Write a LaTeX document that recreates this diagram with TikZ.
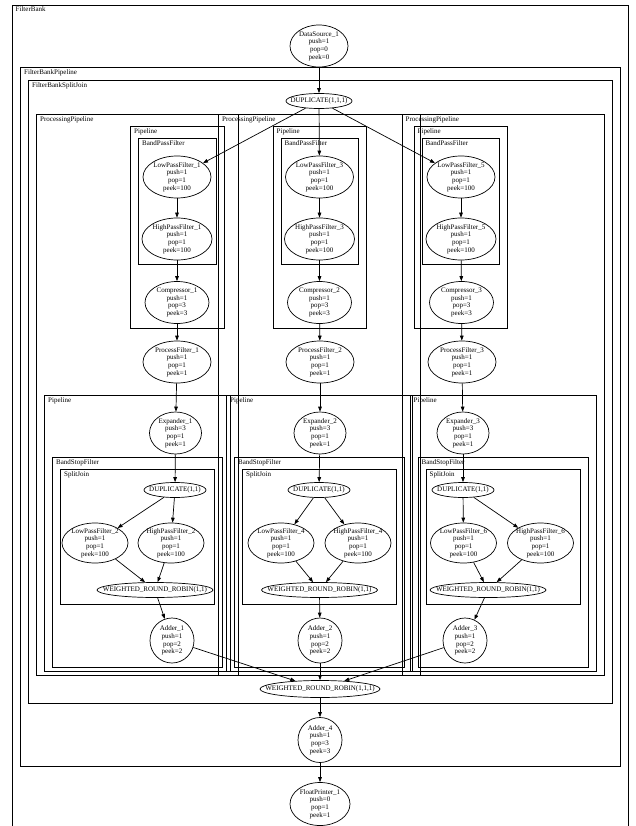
\documentclass[tikz,border=0pt]{standalone}
\usepackage{fontspec}
\setmainfont{Liberation Serif}
\usetikzlibrary{shapes.geometric, arrows.meta}
\newcommand{\gvfont}{\fontsize{7}{7.7}\selectfont}

\begin{document}
\begin{tikzpicture}[
    x=1pt, y=-1pt,
    box/.style={draw, line width=0.7pt},
    boxlabel/.style={anchor=north west, inner sep=0pt, font=\gvfont},
    filt/.style={ellipse, draw, line width=0.7pt, inner sep=-20pt, align=center, font=\gvfont, minimum width=68pt, minimum height=42pt},
    small/.style={filt, minimum width=66pt, minimum height=40pt},
    adder/.style={filt, minimum width=44pt, minimum height=45pt},
    oval/.style={filt, minimum width=62pt, minimum height=15pt},
    wrr/.style={oval, minimum width=116pt},
    edge/.style={line width=0.7pt, -{Triangle[length=5pt, width=3.6pt]}}
]
\clip (0,0) rectangle (636,826);

% clusters
\draw[box] (12.5,5) rectangle (628,840);
\node[boxlabel] (lfb) at (15.5,6.5) {FilterBank};
\draw[box] (20.5,67.5) rectangle (620,766);
\node[boxlabel] (lfbp) at (24,69.5) {FilterBankPipeline};
\draw[box] (28.5,80) rectangle (612,703);
\node[boxlabel] (lfbs) at (32,82) {FilterBankSplitJoin};

\foreach \i/\L/\U in {1/44.5/130.5, 2/226.5/273, 3/410/414} {
  \draw[box] ({\L-8},114) rectangle ({\L+194},675);
  \node[boxlabel] (lpp\i) at ({\L-4.5},116) {ProcessingPipeline};
  \draw[box] (\U,126) rectangle ({\U+93.5},328.5);
  \node[boxlabel] (lpu\i) at ({\U+3.5},128) {Pipeline};
  \draw[box] ({\U+8},138) rectangle ({\U+85.5},264);
  \node[boxlabel] (lbp\i) at ({\U+11.5},140) {BandPassFilter};
  \draw[box] (\L,395) rectangle ({\L+186},671);
  \node[boxlabel] (lpl\i) at ({\L+3.5},397) {Pipeline};
  \draw[box] ({\L+8},457.5) rectangle ({\L+178},667);
  \node[boxlabel] (lbs\i) at ({\L+11.5},459.5) {BandStopFilter};
  \draw[box] ({\L+16},469) rectangle ({\L+170},604);
  \node[boxlabel] (lsj\i) at ({\L+19.5},471) {SplitJoin};
}

% filters
\node[filt, minimum width=58pt] (ds) at (319,46) {DataSource\_1\\push=1\\pop=0\\peek=0};
\node[oval, minimum width=66pt] (dup0) at (319,101) {DUPLICATE(1,1,1)};

\node[filt] (lp1) at (177,177) {LowPassFilter\_1\\push=1\\pop=1\\peek=100};
\node[filt, minimum width=70pt] (hp1) at (177,239) {HighPassFilter\_1\\push=1\\pop=1\\peek=100};
\node[filt, minimum width=64pt] (cmp1) at (177,302.5) {Compressor\_1\\push=1\\pop=3\\peek=3};
\node[filt] (pf1) at (177,362) {ProcessFilter\_1\\push=1\\pop=1\\peek=1};
\node[filt, minimum width=52pt] (ex1) at (175.5,433) {Expander\_1\\push=3\\pop=1\\peek=1};
\node[oval] (dup1) at (175,490) {DUPLICATE(1,1)};
\node[small] (lp2) at (95,543) {LowPassFilter\_2\\push=1\\pop=1\\peek=100};
\node[small] (hp2) at (171,543) {HighPassFilter\_2\\push=1\\pop=1\\peek=100};
\node[wrr] (wrr1) at (155,590) {WEIGHTED\_ROUND\_ROBIN(1,1)};
\node[adder] (add1) at (172,640.5) {Adder\_1\\push=1\\pop=2\\peek=2};

\node[filt] (lp3) at (319.5,177) {LowPassFilter\_3\\push=1\\pop=1\\peek=100};
\node[filt, minimum width=70pt] (hp3) at (319.5,239) {HighPassFilter\_3\\push=1\\pop=1\\peek=100};
\node[filt, minimum width=64pt] (cmp2) at (319.5,302.5) {Compressor\_2\\push=1\\pop=3\\peek=3};
\node[filt] (pf2) at (320,362) {ProcessFilter\_2\\push=1\\pop=1\\peek=1};
\node[filt, minimum width=52pt] (ex2) at (320,433) {Expander\_2\\push=3\\pop=1\\peek=1};
\node[oval] (dup2) at (319,490) {DUPLICATE(1,1)};
\node[small] (lp4) at (281,543) {LowPassFilter\_4\\push=1\\pop=1\\peek=100};
\node[small] (hp4) at (358,543) {HighPassFilter\_4\\push=1\\pop=1\\peek=100};
\node[wrr] (wrr2) at (319.5,590) {WEIGHTED\_ROUND\_ROBIN(1,1)};
\node[adder] (add2) at (320,640.5) {Adder\_2\\push=1\\pop=2\\peek=2};

\node[filt] (lp5) at (461,177) {LowPassFilter\_5\\push=1\\pop=1\\peek=100};
\node[filt, minimum width=70pt] (hp5) at (461,239) {HighPassFilter\_5\\push=1\\pop=1\\peek=100};
\node[filt, minimum width=64pt] (cmp3) at (461.5,302.5) {Compressor\_3\\push=1\\pop=3\\peek=3};
\node[filt] (pf3) at (462,362) {ProcessFilter\_3\\push=1\\pop=1\\peek=1};
\node[filt, minimum width=52pt] (ex3) at (463,433) {Expander\_3\\push=3\\pop=1\\peek=1};
\node[oval] (dup3) at (463,490) {DUPLICATE(1,1)};
\node[small] (lp6) at (463.5,543) {LowPassFilter\_6\\push=1\\pop=1\\peek=100};
\node[small] (hp6) at (540.5,543) {HighPassFilter\_6\\push=1\\pop=1\\peek=100};
\node[wrr] (wrr3) at (488,590) {WEIGHTED\_ROUND\_ROBIN(1,1)};
\node[adder] (add3) at (465,640.5) {Adder\_3\\push=1\\pop=2\\peek=2};

\node[wrr, minimum width=120pt, minimum height=17pt] (wrr0) at (320,689) {WEIGHTED\_ROUND\_ROBIN(1,1,1)};
\node[adder] (add4) at (320,740) {Adder\_4\\push=1\\pop=3\\peek=3};
\node[filt, minimum width=60pt, minimum height=43pt] (fp) at (320,804) {FloatPrinter\_1\\push=0\\pop=1\\peek=1};

% edges
\draw[edge] (ds) -- (dup0);
\draw[edge] (dup0) -- (lp1);
\draw[edge] (dup0) -- (lp3);
\draw[edge] (dup0) -- (lp5);

\draw[edge] (lp1) -- (hp1);
\draw[edge] (hp1) -- (cmp1);
\draw[edge] (cmp1) -- (pf1);
\draw[edge] (pf1) -- (ex1);
\draw[edge] (ex1) -- (dup1);
\draw[edge] (dup1) -- (lp2);
\draw[edge] (dup1) -- (hp2);
\draw[edge] (lp2) -- (wrr1);
\draw[edge] (hp2) -- (wrr1);
\draw[edge] (wrr1) -- (add1);

\draw[edge] (lp3) -- (hp3);
\draw[edge] (hp3) -- (cmp2);
\draw[edge] (cmp2) -- (pf2);
\draw[edge] (pf2) -- (ex2);
\draw[edge] (ex2) -- (dup2);
\draw[edge] (dup2) -- (lp4);
\draw[edge] (dup2) -- (hp4);
\draw[edge] (lp4) -- (wrr2);
\draw[edge] (hp4) -- (wrr2);
\draw[edge] (wrr2) -- (add2);

\draw[edge] (lp5) -- (hp5);
\draw[edge] (hp5) -- (cmp3);
\draw[edge] (cmp3) -- (pf3);
\draw[edge] (pf3) -- (ex3);
\draw[edge] (ex3) -- (dup3);
\draw[edge] (dup3) -- (lp6);
\draw[edge] (dup3) -- (hp6);
\draw[edge] (lp6) -- (wrr3);
\draw[edge] (hp6) -- (wrr3);
\draw[edge] (wrr3) -- (add3);

\draw[edge] (add1) -- (wrr0);
\draw[edge] (add2) -- (wrr0);
\draw[edge] (add3) -- (wrr0);
\draw[edge] (wrr0) -- (add4);
\draw[edge] (add4) -- (fp);
\end{tikzpicture}
\end{document}
